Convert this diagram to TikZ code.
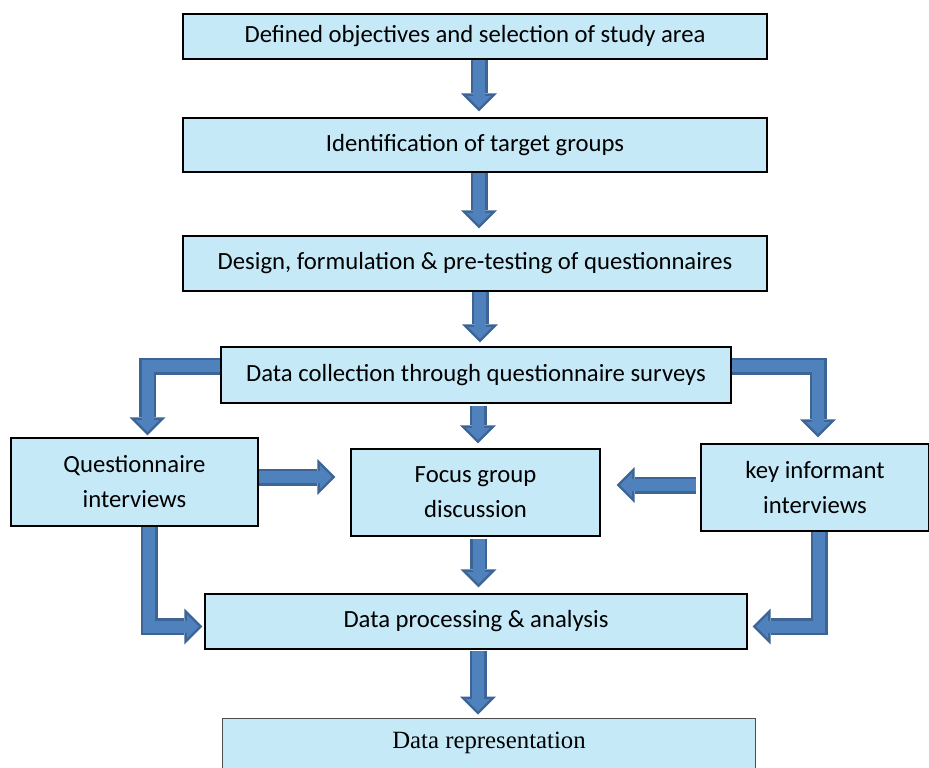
\documentclass[tikz,border=0pt]{standalone}
\usepackage{fontspec}
\setmainfont{Carlito}
\newfontfamily\reprfont{Liberation Serif}
\usetikzlibrary{arrows.meta,positioning,calc}
\definecolor{boxblue}{HTML}{C6E9F8}
\definecolor{arrowfill}{HTML}{4F81BD}
\definecolor{arrowedge}{HTML}{3C6494}
\tikzset{
  stage/.style    = {draw=black, line width=1.3pt, fill=boxblue, inner sep=2pt,
                     align=center, font=\fontsize{24.7}{35}\selectfont},
  fatout/.style   = {draw=arrowedge, line width=17pt, line join=miter,
                     -{Triangle[length=18pt,width=36pt,line width=0pt]}},
  fatin/.style    = {draw=arrowfill, line width=12pt, line join=miter, shorten >=3.5pt,
                     -{Triangle[length=12pt,width=24pt,line width=0pt]}},
}
\newcommand{\bigarrow}[1]{\draw[fatout] #1; \draw[fatin] #1;}

\begin{document}
\begin{tikzpicture}[x=1pt,y=-1pt]
  \useasboundingbox (0,0) rectangle (929,768);
  \clip (0,0) rectangle (929,768);
  % main column
  \node[stage, minimum width=584pt, minimum height=45pt] (obj) at (475,36.5)
    {Defined objectives and selection of study area};
  \node[stage, minimum width=584pt, minimum height=54pt] (target) at (475,145)
    {Identification of target groups};
  \node[stage, minimum width=584pt, minimum height=55pt] (design) at (475,263.5)
    {Design, formulation \& pre-testing of questionnaires};
  \node[stage, minimum width=510pt, minimum height=56pt] (collect) at (476,375)
    {Data collection through questionnaire surveys};
  % three methods
  \node[stage, minimum width=247pt, minimum height=88pt] (quest) at (134.5,482)
    {Questionnaire\\interviews};
  \node[stage, minimum width=249pt, minimum height=87pt] (focus) at (475.5,492.5)
    {Focus group\\discussion};
  \node[stage, minimum width=228pt, minimum height=87pt] (keyinf) at (815,487.5)
    {key informant\\interviews};
  \node[stage, minimum width=542pt, minimum height=55pt] (proc) at (476,621.5)
    {Data processing \& analysis};
  \node[stage, draw=black!70, line width=1pt, minimum width=533pt, minimum height=80pt] (repr)
    at (488.5,758) {};
  \node[font=\reprfont\fontsize{24.8}{28}\selectfont] (reprtext) at (489,743) {Data representation};
  % straight arrows down the column
  \bigarrow{([xshift=4pt]obj.south) -- ($(obj.south |- target.north)+(4,-6)$)}
  \bigarrow{([xshift=4pt]target.south) -- ($(target.south |- design.north)+(4,-7)$)}
  \bigarrow{([xshift=5pt]design.south) -- ($(design.south |- collect.north)+(5,-4)$)}
  \bigarrow{([xshift=2pt,yshift=-2pt]collect.south) -- ($(collect.south |- focus.north)+(2,-5)$)}
  \bigarrow{([xshift=3pt,yshift=-2pt]focus.south) -- ($(focus.south |- proc.north)+(3,-6)$)}
  \bigarrow{([xshift=2pt,yshift=-1pt]proc.south) -- ($(proc.south |- repr.north)+(2,-3)$)}
  % split to the side methods
  \bigarrow{([yshift=9pt]collect.west) -| ([xshift=13pt,yshift=2pt]quest.north)}
  \bigarrow{([yshift=9pt]collect.east) -| ([xshift=3pt,yshift=6pt]keyinf.north)}
  % side methods into focus group
  \coordinate (qe) at ([yshift=5pt]quest.east);
  \coordinate (fw) at ([xshift=-15pt]focus.west);
  \bigarrow{(qe) -- (qe -| fw)}
  \coordinate (ke) at ([xshift=-4pt,yshift=2.5pt]keyinf.west);
  \coordinate (fe) at ([xshift=16pt]focus.east);
  \bigarrow{(ke) -- (ke -| fe)}
  % side methods into processing
  \bigarrow{([xshift=14.5pt]quest.south) |- ([xshift=-2pt,yshift=-5pt]proc.west)}
  \bigarrow{([xshift=4pt]keyinf.south) |- ([xshift=5pt,yshift=-5pt]proc.east)}
\end{tikzpicture}
\end{document}
